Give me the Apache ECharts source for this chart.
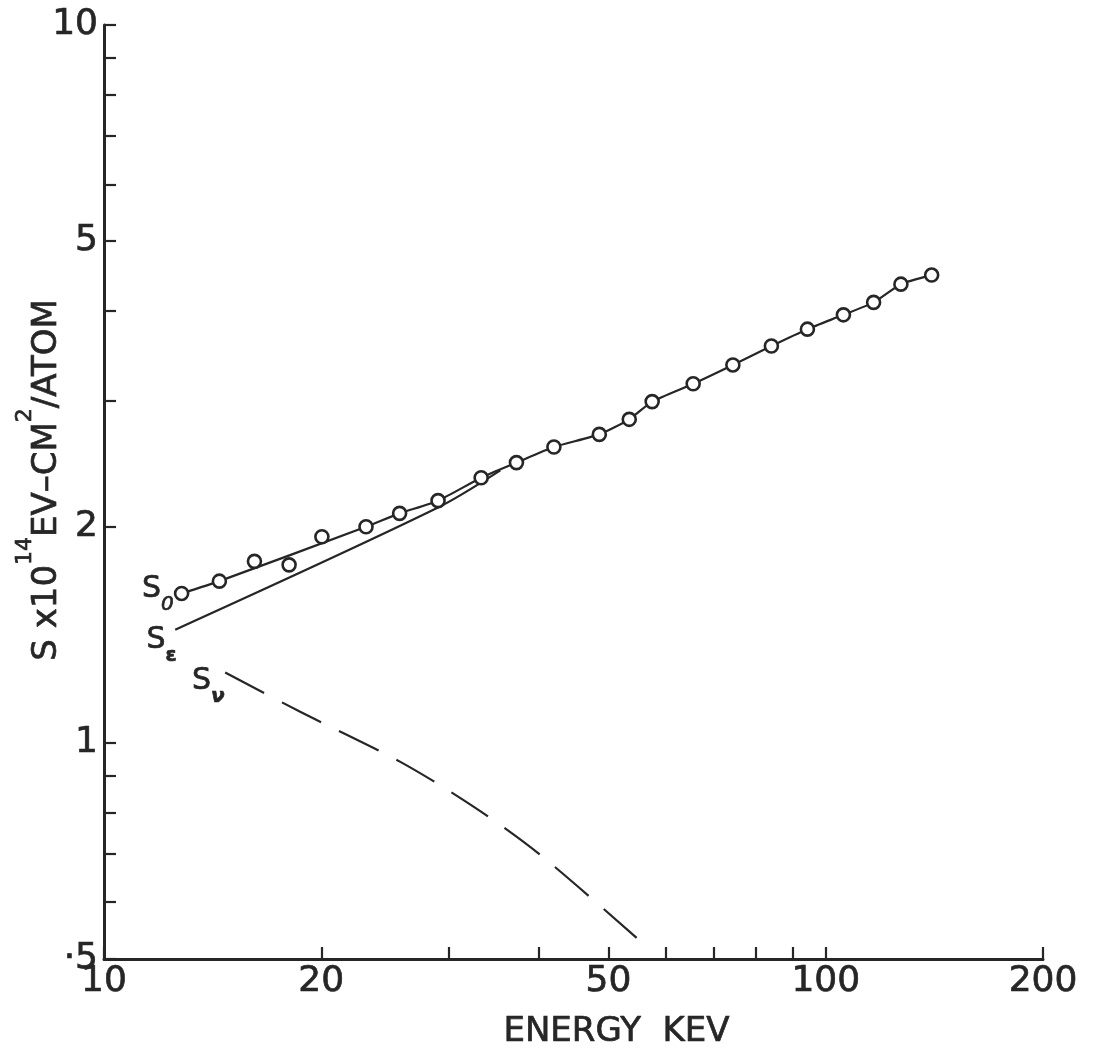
<!DOCTYPE html>
<html>
<head>
<meta charset="utf-8">
<script src="https://cdn.jsdelivr.net/npm/echarts@6/dist/echarts.min.js"></script>
<style>
html,body{margin:0;padding:0;background:#fff;}
#chart{width:1098px;height:1056px;}
</style>
</head>
<body>
<div id="chart"></div>
<script>
// Measured points (S0), energy in keV and stopping cross section in 1e-14 eV-cm^2/atom
const s0Energy = [12.81,14.45,16.16,18.05,20.04,23.07,25.68,29.03,33.31,37.28,42.01,48.56,53.43,57.48,65.51,74.36,84.08,94.32,105.8,116.5,127.1,140.2];
const s0Values = [1.615,1.680,1.790,1.770,1.937,2.000,2.088,2.175,2.341,2.457,2.583,2.690,2.823,2.988,3.164,3.361,3.572,3.770,3.947,4.108,4.355,4.484];
// Drawn S0 curve through the points
const s0CurveEnergy = [12.81,14.45,23.07,25.68,29.03,33.31,37.28,42.01,48.56,53.43,57.48,65.51,74.36,84.08,94.32,105.8,116.5,127.1,140.2];
const s0CurveValues = [1.615,1.680,2.000,2.088,2.175,2.341,2.457,2.583,2.690,2.823,2.988,3.164,3.361,3.572,3.770,3.947,4.108,4.355,4.484];
// Electronic stopping curve (S_epsilon), merges into S0 curve
const seEnergy = [12.55,29.03,35.41];
const seValues = [1.438,2.128,2.397];
// Nuclear stopping curve (S_nu), dashed
const snEnergy = [14.72,18.70,25.74,32.70,40.24,54.70];
const snValues = [1.253,1.105,0.941,0.812,0.698,0.535];
// Axis ticks and labels
const xTicks = [10,20,30,40,50,60,70,80,90,100,200];
const xLabels = [10,20,50,100,200];
const yTicks = [0.5,0.6,0.7,0.8,0.9,1,2,3,4,5,6,7,8,9,10];
const yLabels = [0.5,1,2,5,10];

const ink = '#262626';
const font = 'DejaVu Sans';
const thick = { textBorderColor: ink, textBorderWidth: 0.7 };

function pairs(xs, ys, labelCfg) {
  return xs.map((x, i) => {
    if (i === 0 && labelCfg) return { value: [x, ys[i]], label: labelCfg };
    return [x, ys[i]];
  });
}
function subLabel(sub, offset, subStyle) {
  return {
    show: true,
    position: 'left',
    distance: 0,
    offset: offset,
    formatter: '{s|S}{b|' + sub + '}',
    rich: {
      s: Object.assign({ fontFamily: font, fontSize: 30, color: ink, verticalAlign: 'top', lineHeight: 40 }, thick),
      b: Object.assign({ fontFamily: font, fontSize: 20, color: ink, verticalAlign: 'bottom', lineHeight: 40 }, thick, subStyle || {})
    }
  };
}

const chart = echarts.init(document.getElementById('chart'), null, { renderer: 'canvas' });
chart.setOption({
  backgroundColor: '#ffffff',
  animation: false,
  grid: { left: 104, right: 55, top: 25, bottom: 97, containLabel: false, outerBoundsMode: 'none' },
  xAxis: {
    type: 'log', logBase: 10, min: 10, max: 200,
    name: 'ENERGY  KEV', nameLocation: 'middle', nameGap: 56, nameMoveOverlap: false,
    nameTextStyle: Object.assign({ fontFamily: font, fontSize: 34, color: ink, padding: [0, 0, 0, 86] }, thick),
    axisLine: { show: true, onZero: false, lineStyle: { color: ink, width: 3 } },
    axisTick: { show: true, inside: true, length: 12, customValues: xTicks, lineStyle: { color: ink, width: 2.2 } },
    axisLabel: Object.assign({ show: true, margin: 5, customValues: xLabels, fontFamily: font, fontSize: 36, color: ink,
      formatter: v => String(Math.round(v)) }, thick),
    minorTick: { show: false }, splitLine: { show: false }
  },
  yAxis: {
    type: 'log', logBase: 10, min: 0.5, max: 10,
    name: '{a|S x10}{sup|14}{a|EV\u2013CM}{sup|2}{a|/ATOM}',
    nameLocation: 'middle', nameRotate: 90, nameGap: 40, nameMoveOverlap: false,
    nameTextStyle: {
      padding: [0, 0, 0, 24],
      rich: {
        a: Object.assign({ fontFamily: font, fontSize: 34, color: ink, verticalAlign: 'bottom', lineHeight: 50 }, thick),
        sup: Object.assign({ fontFamily: font, fontSize: 22, color: ink, verticalAlign: 'top', lineHeight: 50 }, thick)
      }
    },
    axisLine: { show: true, onZero: false, lineStyle: { color: ink, width: 3 } },
    axisTick: { show: true, inside: true, length: 12, customValues: yTicks, lineStyle: { color: ink, width: 2.2 } },
    axisLabel: Object.assign({ show: true, margin: 6, customValues: yLabels, fontFamily: font, fontSize: 36, color: ink,
      formatter: v => { const r = Math.round(v * 100) / 100; return r === 0.5 ? '\u00b75' : String(r); } }, thick),
    minorTick: { show: false }, splitLine: { show: false }
  },
  series: [
    {
      name: 'S\u03b5', type: 'line', z: 2,
      data: pairs(seEnergy, seValues, subLabel('\u03b5', [2, 16], { fontWeight: 'bold' })),
      symbol: 'circle', symbolSize: 1, showSymbol: true,
      itemStyle: { color: 'rgba(0,0,0,0)' },
      lineStyle: { color: ink, width: 2.2 }, smooth: 0.3
    },
    {
      name: 'S\u03bd', type: 'line', z: 2,
      data: pairs(snEnergy, snValues, subLabel('\u03bd', [0, 14], { fontWeight: 'bold', fontStyle: 'italic' })),
      symbol: 'circle', symbolSize: 1, showSymbol: true,
      itemStyle: { color: 'rgba(0,0,0,0)' },
      lineStyle: { color: ink, width: 2.2, type: [44, 20] }, smooth: 0.3
    },
    {
      name: 'S0 curve', type: 'line', z: 2,
      data: pairs(s0CurveEnergy, s0CurveValues),
      showSymbol: false, symbol: 'none',
      lineStyle: { color: ink, width: 2.2 }, smooth: 0.2
    },
    {
      name: 'S0', type: 'scatter', z: 3,
      data: pairs(s0Energy, s0Values, subLabel('0', [0, 1], { fontStyle: 'italic' })),
      symbol: 'circle', symbolSize: 13,
      itemStyle: { color: '#ffffff', borderColor: ink, borderWidth: 2.6, opacity: 1 }
    }
  ]
});
</script>
</body>
</html>
